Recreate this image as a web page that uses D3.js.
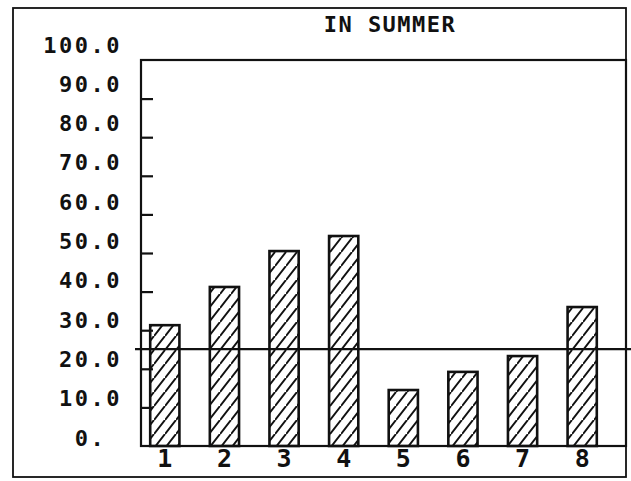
<!DOCTYPE html>
<html>
<head>
<meta charset="utf-8">
<script src="https://cdn.jsdelivr.net/npm/d3@7"></script>
<style>
  html, body { margin: 0; padding: 0; background: #fff; }
  svg { display: block; }
</style>
</head>
<body>
<div id="chart"></div>
<script>
// values
var categories = ["1", "2", "3", "4", "5", "6", "7", "8"];
var values = [31.3, 41.2, 50.5, 54.4, 14.5, 19.2, 23.3, 36.0];
var refLine = [25.1];
var yTickValues = [0, 10, 20, 30, 40, 50, 60, 70, 80, 90, 100];
var title = "IN SUMMER";

var W = 631, H = 481;
var ink = "#111";
var font = "'DejaVu Sans Mono', 'Liberation Mono', monospace";

var svg = d3.select("#chart").append("svg")
	.attr("width", W)
	.attr("height", H);

// hatch fill for the bars
var hw = 11, hh = 14;
svg.append("defs").append("pattern")
	.attr("id", "hatch")
	.attr("patternUnits", "userSpaceOnUse")
	.attr("width", hw)
	.attr("height", hh)
	.append("path")
	.attr("d", "M0," + hh + "L" + hw + ",0M" + (-hw) + "," + hh + "L0,0M" + hw + "," + (2 * hh) + "L" + (2 * hw) + "," + hh)
	.attr("stroke", ink)
	.attr("stroke-width", 2);

// plot box
var pLeft = 141, pRight = 626, pTop = 60, pBottom = 446;

var y = d3.scaleLinear().domain([0, 100]).range([pBottom, pTop]);
// labels sit a bit above their ticks in the original
var yLab = d3.scaleLinear().domain([0, 100]).range([438, 45]);
var x = d3.scaleBand().domain(categories).range([135, 612])
	.paddingInner(0.51).paddingOuter(0.255);

// outer frame
svg.append("rect")
	.attr("x", 13).attr("y", 8)
	.attr("width", pRight - 13).attr("height", 477 - 8)
	.attr("fill", "none")
	.attr("stroke", ink)
	.attr("stroke-width", 1.8);

// title
svg.append("text")
	.attr("x", 390)
	.attr("y", 32)
	.attr("text-anchor", "middle")
	.style("font-family", font)
	.style("font-size", "22px")
	.style("font-weight", "bold")
	.style("letter-spacing", "1.5px")
	.attr("fill", ink)
	.text(title);

// bars
svg.append("g").selectAll("rect")
	.data(values)
	.join("rect")
	.attr("x", function(d, i) { return x(categories[i]); })
	.attr("y", function(d) { return y(d); })
	.attr("width", x.bandwidth())
	.attr("height", function(d) { return y(0) - y(d); })
	.attr("fill", "url(#hatch)")
	.attr("stroke", ink)
	.attr("stroke-width", 2.6);

// plot frame
svg.append("rect")
	.attr("x", pLeft).attr("y", pTop)
	.attr("width", pRight - pLeft).attr("height", pBottom - pTop)
	.attr("fill", "none")
	.attr("stroke", ink)
	.attr("stroke-width", 2.2);

// tick marks, pointing into the plot
var ticks = svg.append("g")
	.attr("transform", "translate(" + pLeft + ",0)")
	.call(d3.axisRight(y).tickValues(yTickValues.slice(1, -1)).tickSize(12).tickFormat(""));
ticks.select(".domain").remove();
ticks.selectAll("line").attr("stroke", ink).attr("stroke-width", 2.2);

// y labels, the "0." keeps its dot in the same column as the others
var yl = svg.append("g")
	.attr("transform", "translate(122,0)")
	.call(d3.axisLeft(yLab).tickValues(yTickValues).tickSize(0).tickPadding(0)
		.tickFormat(function(d) { return d === 0 ? "0.\u00a0" : d.toFixed(1); }));
yl.select(".domain").remove();
yl.selectAll("text")
	.style("font-family", font)
	.style("font-size", "22px")
	.style("font-weight", "bold")
	.style("letter-spacing", "2.5px")
	.attr("fill", ink);

// x labels
var xl = svg.append("g")
	.attr("transform", "translate(0," + pBottom + ")")
	.call(d3.axisBottom(x).tickSize(0).tickPadding(3));
xl.select(".domain").remove();
xl.selectAll("text")
	.style("font-family", font)
	.style("font-size", "25px")
	.style("font-weight", "bold")
	.attr("fill", ink);

// reference line
svg.append("g").selectAll("line")
	.data(refLine)
	.join("line")
	.attr("x1", 135).attr("x2", W)
	.attr("y1", function(d) { return y(d); })
	.attr("y2", function(d) { return y(d); })
	.attr("stroke", ink)
	.attr("stroke-width", 2.2);
</script>
</body>
</html>
